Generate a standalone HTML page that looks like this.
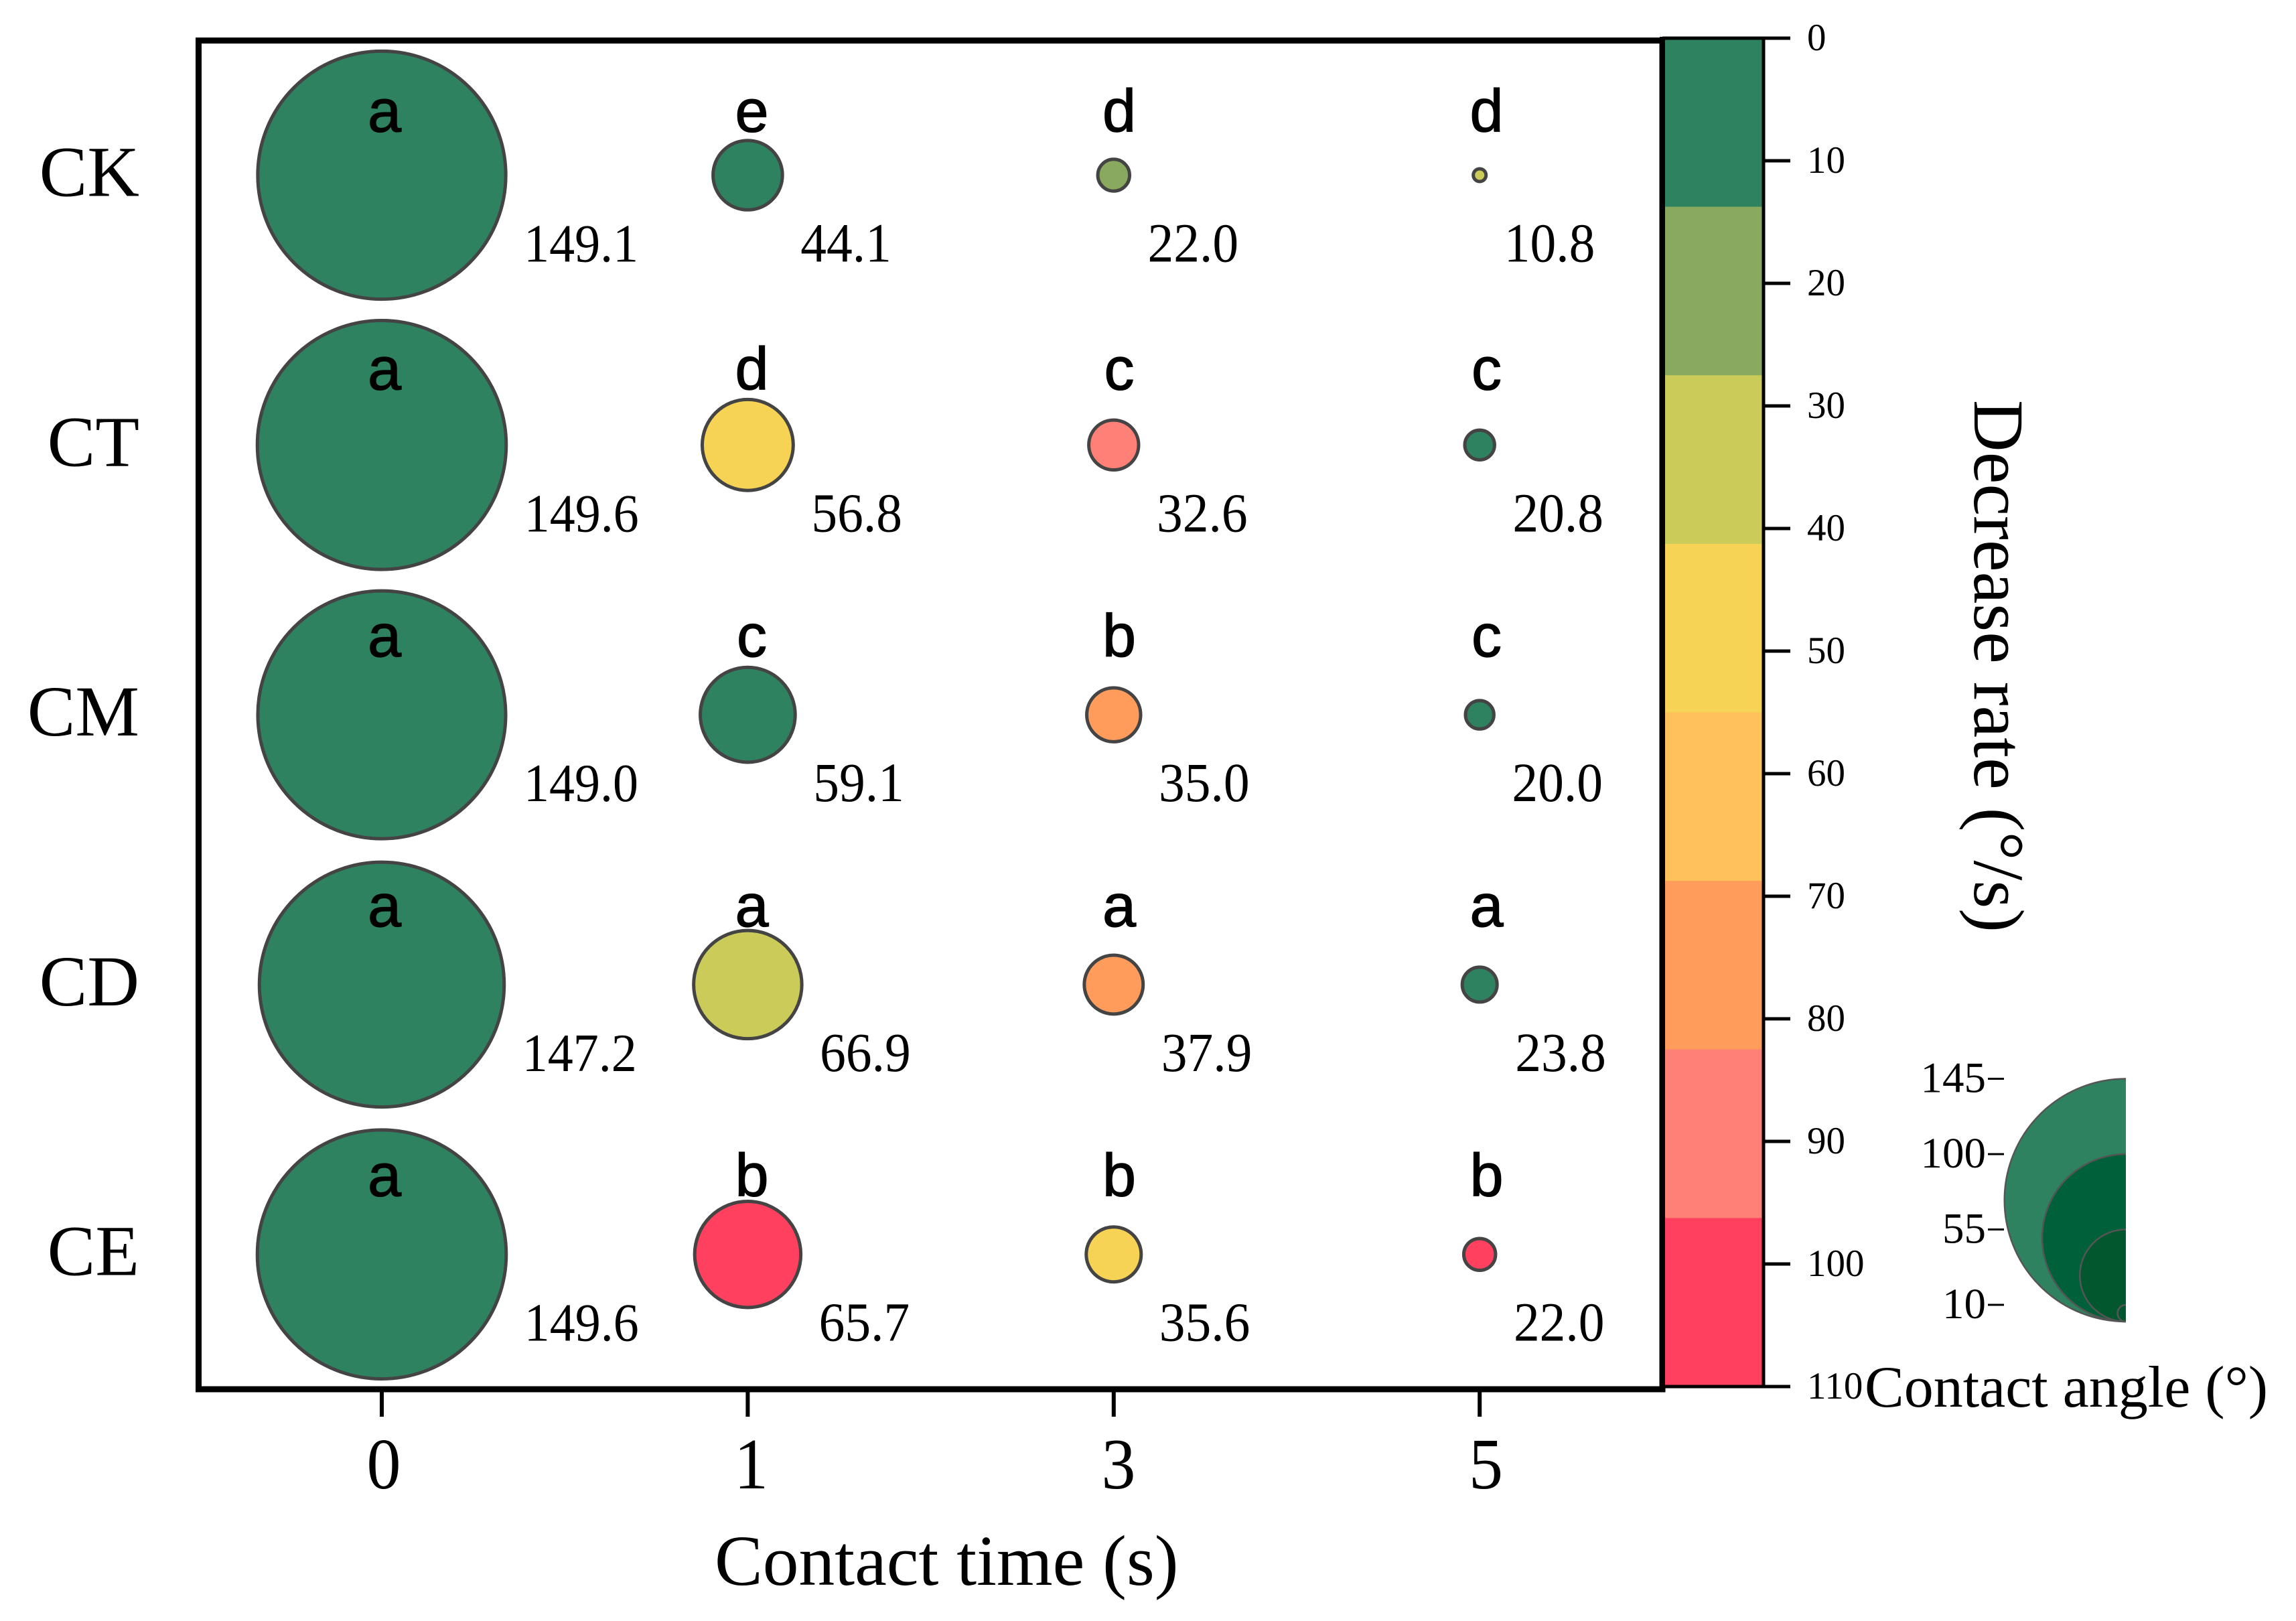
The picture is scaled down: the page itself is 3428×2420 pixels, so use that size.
<!DOCTYPE html>
<html lang="en">
<head>
<meta charset="utf-8">
<title>Contact angle bubble chart</title>
<style>
html,body{margin:0;padding:0;background:#fff;width:3428px;height:2420px;overflow:hidden}
svg{display:block}
text{font-family:"Liberation Serif",serif;fill:#000}
.letter{font-family:"Liberation Sans",sans-serif;stroke:#000;stroke-width:1.3px}
</style>
</head>
<body>
<svg id="chart" xmlns="http://www.w3.org/2000/svg" width="3428" height="2420" viewBox="0 0 3428 2420">
  <rect x="0" y="0" width="3428" height="2420" fill="#fff"/>
  <g id="bubbles"></g>
  <g id="texts"></g>
  <rect x="296.5" y="60.5" width="2185.5" height="2013.5" fill="none" stroke="#000" stroke-width="9"/>
  <g id="xaxis"></g>
  <g id="yaxis"></g>
  <g id="colorbar"></g>
  <g id="sizelegend"></g>
  <text x="1067" y="2366" font-size="107.5">Contact time (s)</text>
  <text transform="translate(2948 597) rotate(90)" font-size="107.5">Decrease rate (°/s)</text>
  <text x="2784" y="2100" font-size="88">Contact angle (°)</text>
</svg>
<script>
const treatments = ['CK', 'CT', 'CM', 'CD', 'CE'];
const times = ['0', '1', '3', '5'];
const contactAngleCK = [149.1, 44.1, 22.0, 10.8];
const contactAngleCT = [149.6, 56.8, 32.6, 20.8];
const contactAngleCM = [149.0, 59.1, 35.0, 20.0];
const contactAngleCD = [147.2, 66.9, 37.9, 23.8];
const contactAngleCE = [149.6, 65.7, 35.6, 22.0];
const decreaseRateCK = [8, 7, 20, 34];
const decreaseRateCT = [8, 48, 90, 8];
const decreaseRateCM = [8, 8, 75, 8];
const decreaseRateCD = [8, 34, 75, 8];
const decreaseRateCE = [8, 103, 48, 103];
const lettersCK = ['a', 'e', 'd', 'd'];
const lettersCT = ['a', 'd', 'c', 'c'];
const lettersCM = ['a', 'c', 'b', 'c'];
const lettersCD = ['a', 'a', 'a', 'a'];
const lettersCE = ['a', 'b', 'b', 'b'];
const colorbarTicks = [0, 10, 20, 30, 40, 50, 60, 70, 80, 90, 100, 110];
const bandColors = ['#2e8260', '#89aa5e', '#cbcb5a', '#f6d355', '#fec15b', '#ff9c5b', '#ff8076', '#ff405e'];
const rateMax = 110;
const legendSizes = [145, 100, 55, 10];
const legendColors = ['#2e8260', '#006039', '#03572e', '#03572e'];

const angles = [contactAngleCK, contactAngleCT, contactAngleCM, contactAngleCD, contactAngleCE];
const rates = [decreaseRateCK, decreaseRateCT, decreaseRateCM, decreaseRateCD, decreaseRateCE];
const letters = [lettersCK, lettersCT, lettersCM, lettersCD, lettersCE];

const NS = 'http://www.w3.org/2000/svg';
function xScale(c) { return 570 + c * 546.4; }
function yScale(r) { return 261.5 + r * 402.8; }
function rScale(v) { return v * 1.27 - 4.2; }
function letterX(c) { return 574 + c * 548.5; }
function letterY(r) { return yScale(r) - (r === 0 ? 65 : r === 1 ? 83 : 87); }
function barY(v) { return 57 + v * 18.3; }
function bandColor(rate) {
  const i = Math.floor(rate / (rateMax / bandColors.length));
  return bandColors[Math.min(bandColors.length - 1, i)];
}
function make(tag, attrs, parent, txt) {
  const el = document.createElementNS(NS, tag);
  for (const k in attrs) el.setAttribute(k, attrs[k]);
  if (txt !== undefined) el.textContent = txt;
  parent.appendChild(el);
  return el;
}
const bubbles = document.getElementById('bubbles');
const texts = document.getElementById('texts');
const xaxis = document.getElementById('xaxis');
const yaxis = document.getElementById('yaxis');
const colorbar = document.getElementById('colorbar');
const sizelegend = document.getElementById('sizelegend');

treatments.forEach(function (name, r) {
  times.forEach(function (time, c) {
    const v = angles[r][c];
    const bubble = make('circle', { cx: xScale(c), cy: yScale(r), r: rScale(v), fill: bandColor(rates[r][c]), stroke: '#444', 'stroke-width': 5 }, bubbles);
    
    
    const labelX = xScale(c) + rScale(v) + (c === 0 ? 27 : 27);
    const labelY = yScale(r) + 129;
    const value = make('text', { transform: 'translate(' + labelX + ' ' + labelY + ') scale(1 1.06)', 'font-size': c === 0 ? 76 : 77.5 }, texts, v.toFixed(1));
    
    
    const letter = make('text', { class: 'letter', x: letterX(c), y: letterY(r), 'font-size': 90, 'text-anchor': 'middle' }, texts, letters[r][c]);
    
    
  });
  const rowLabel = make('text', { x: 208, y: yScale(r) + 31, 'font-size': 107.5, 'text-anchor': 'end' }, yaxis, name);
  
  
});

times.forEach(function (time, c) {
  const tick = make('line', { x1: xScale(c), x2: xScale(c), y1: 2074, y2: 2115, stroke: '#000', 'stroke-width': 6 }, xaxis);
  
  
  const tickX = letterX(c) - 1;
  const label = make('text', { transform: 'translate(' + tickX + ' 2222) scale(1 1.06)', 'font-size': 102, 'text-anchor': 'middle' }, xaxis, time);
  
  
});

bandColors.forEach(function (color, i) {
  const step = rateMax / bandColors.length;
  const band = make('rect', { x: 2482, width: 151, y: barY(i * step), height: barY((i + 1) * step) - barY(i * step) + 0.5, fill: color }, colorbar);
  
  
});
const barLeft = make('line', { x1: 2482, x2: 2482, y1: 55, y2: 2076, stroke: '#000', 'stroke-width': 8 }, colorbar);


const barRight = make('line', { x1: 2633, x2: 2633, y1: 55, y2: 2072, stroke: '#000', 'stroke-width': 5 }, colorbar);


colorbarTicks.forEach(function (t) {
  const startX = (t === 0 || t === rateMax) ? 2482 : 2633;
  const tick = make('line', { x1: startX, x2: 2673, y1: barY(t), y2: barY(t), stroke: '#000', 'stroke-width': 5 }, colorbar);
  
  
  const label = make('text', { x: 2698, y: barY(t) + 18, 'font-size': 57 }, colorbar, String(t));
  
  
});

const legendClip = make('clipPath', { id: 'legend-half' }, sizelegend);


const clipRect = make('rect', { x: 2900, y: 1500, width: 274, height: 600 }, legendClip);


const legendBase = 1973;
legendSizes.forEach(function (s, i) {
  const rad = s * 1.25;
  const circle = make('circle', { cx: 3174, cy: legendBase - rad, r: rad, fill: legendColors[i], stroke: '#555', 'stroke-width': 2.5, 'clip-path': 'url(#legend-half)' }, sizelegend);
  
  
  const topY = legendBase - 2 * rad;
  const tick = make('line', { x1: 2968, x2: 2992, y1: topY, y2: topY, stroke: '#000', 'stroke-width': 3 }, sizelegend);
  
  
  const label = make('text', { x: 2965, y: topY + 20, 'font-size': 65, 'text-anchor': 'end' }, sizelegend, String(s));
  
  
});
</script>
</body>
</html>
